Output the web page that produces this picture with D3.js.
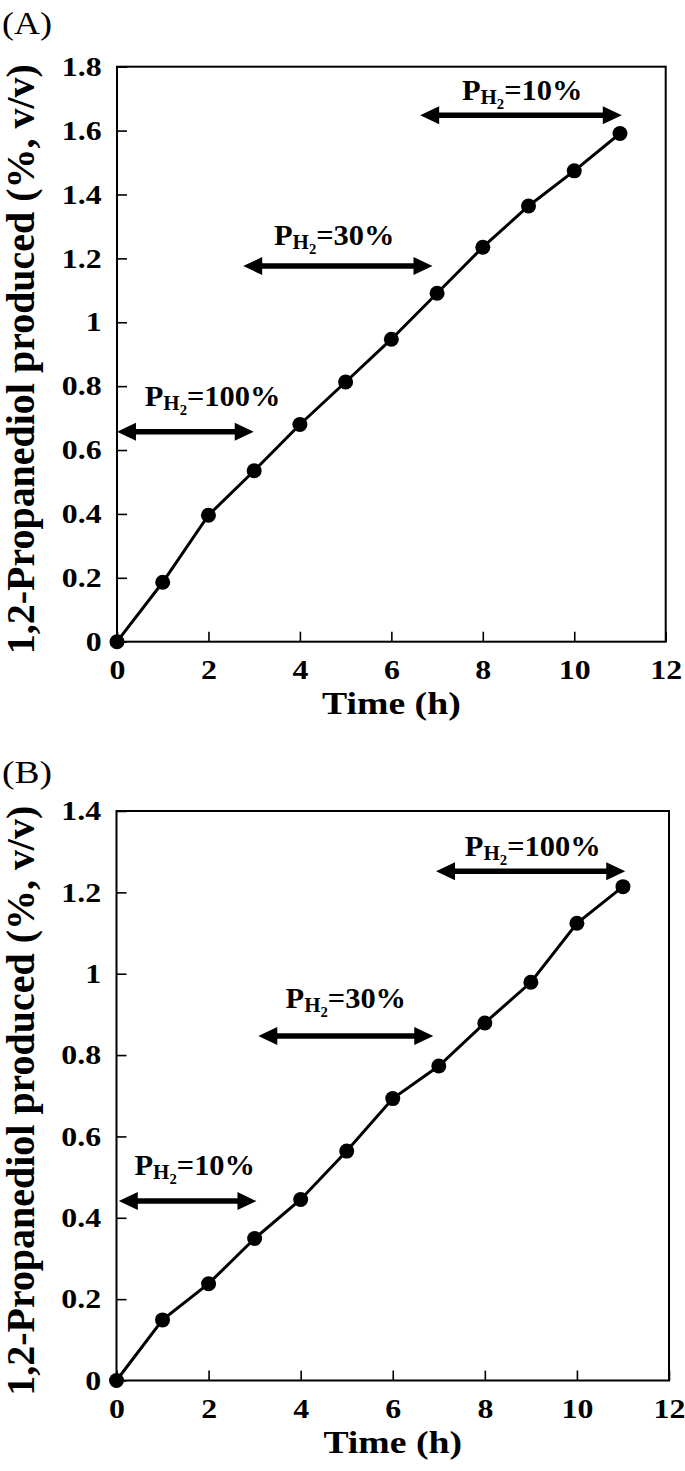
<!DOCTYPE html>
<html>
<head>
<meta charset="utf-8">
<script src="https://cdn.jsdelivr.net/npm/d3@7"></script>
<style>
  body { margin: 0; background: #fff; }
  text { font-family: "Liberation Serif", "Times New Roman", serif; }
</style>
</head>
<body>
<div id="chartDiv"></div>
<script>
// data
var timeHours = [0, 1, 2, 3, 4, 5, 6, 7, 8, 9, 10, 11];
var propanediolA = [0, 0.186, 0.396, 0.535, 0.68, 0.813, 0.947, 1.091, 1.235, 1.364, 1.474, 1.591];
var propanediolB = [0, 0.149, 0.238, 0.349, 0.445, 0.564, 0.693, 0.773, 0.879, 0.979, 1.124, 1.214];

var xTicks = [0, 2, 4, 6, 8, 10, 12];
var yTicksA = [0, 0.2, 0.4, 0.6, 0.8, 1, 1.2, 1.4, 1.6, 1.8];
var yTicksB = [0, 0.2, 0.4, 0.6, 0.8, 1, 1.2, 1.4];

// H2 pressure periods: arrow start/end (h), arrow level, label centre and baseline
var pressureA = [
  { pct: "100", x0: 0, x1: 2.99, y: 0.657, lx: 2.09, ly: 0.737 },
  { pct: "30", x0: 2.76, x1: 6.9, y: 1.176, lx: 4.75, ly: 1.241 },
  { pct: "10", x0: 6.63, x1: 11.04, y: 1.648, lx: 8.86, ly: 1.695 }
];
var pressureB = [
  { pct: "10", x0: 0.05, x1: 3.04, y: 0.441, lx: 1.70, ly: 0.505 },
  { pct: "30", x0: 3.08, x1: 6.88, y: 0.847, lx: 4.98, ly: 0.915 },
  { pct: "100", x0: 6.94, x1: 11.05, y: 1.252, lx: 9.04, ly: 1.289 }
];

var width = 685;
var height = 1471;
var stretch = 1.18;   // the original figure is a bit wider than tall
var yTitle = "1,2-Propanediol produced (%, v/v)";
var xTitle = "Time (h)";

var svg = d3.select("#chartDiv").append("svg")
  .attr("width", width)
  .attr("height", height);

drawPanel({ tag: "(A)", tagY: 34, left: 117, right: 665.7, top: 66.7, bottom: 641.7,
  yMax: 1.8, yTicks: yTicksA, values: propanediolA, arrows: pressureA });
drawPanel({ tag: "(B)", tagY: 783, left: 116.5, right: 669, top: 811, bottom: 1380.5,
  yMax: 1.4, yTicks: yTicksB, values: propanediolB, arrows: pressureB });

function drawPanel(p) {
  var x = d3.scaleLinear().domain([0, 12]).range([p.left, p.right]);
  var y = d3.scaleLinear().domain([0, p.yMax]).range([p.bottom, p.top]);
  var g = svg.append("g");

  // panel letter
  g.append("text")
    .attr("x", 2)
    .attr("y", p.tagY)
    .attr("font-size", 32)
    .attr("textLength", 50)
    .attr("lengthAdjust", "spacingAndGlyphs")
    .text(p.tag);

  // axes with inward ticks
  var xAxis = d3.axisBottom(x).tickValues(xTicks).tickSize(-10).tickPadding(18)
    .tickFormat(function(d) { return String(d); });
  var yAxis = d3.axisLeft(y).tickValues(p.yTicks).tickSize(-10).tickPadding(13)
    .tickFormat(function(d) { return String(d); });

  var gx = g.append("g")
    .attr("transform", "translate(0," + p.bottom + ")")
    .call(xAxis);
  var gy = g.append("g")
    .attr("transform", "translate(" + p.left + ",0)")
    .call(yAxis);

  [gx, gy].forEach(function(ax) {
    ax.select(".domain").remove();
    ax.selectAll(".tick line").attr("stroke", "#000").attr("stroke-width", 1.6);
    ax.selectAll(".tick text")
      .attr("font-size", 27)
      .attr("font-weight", "bold")
      .attr("fill", "#000")
      .attr("transform", "scale(" + stretch + ",1)");
  });

  // frame
  g.append("rect")
    .attr("x", p.left)
    .attr("y", p.top)
    .attr("width", p.right - p.left)
    .attr("height", p.bottom - p.top)
    .attr("fill", "none")
    .attr("stroke", "#000")
    .attr("stroke-width", 2);

  // axis titles
  g.append("text")
    .attr("transform", "translate(" + ((p.left + p.right) / 2) + "," + (p.bottom + 72) + ") scale(" + stretch + ",1)")
    .attr("text-anchor", "middle")
    .attr("font-size", 32)
    .attr("font-weight", "bold")
    .text(xTitle);

  g.append("text")
    .attr("transform", "translate(34," + ((p.top + p.bottom) / 2 + 5) + ") rotate(-90)")
    .attr("text-anchor", "middle")
    .attr("font-size", 39)
    .attr("font-weight", "bold")
    .attr("textLength", 590)
    .attr("lengthAdjust", "spacingAndGlyphs")
    .text(yTitle);

  // pressure arrows
  var head = 19, half = 9;
  p.arrows.forEach(function(a) {
    var xa = x(a.x0), xb = x(a.x1), ya = y(a.y);
    g.append("line")
      .attr("x1", xa + head - 2).attr("x2", xb - head + 2)
      .attr("y1", ya).attr("y2", ya)
      .attr("stroke", "#000")
      .attr("stroke-width", 5.5);
    g.append("path")
      .attr("d", "M" + xa + "," + ya + "L" + (xa + head) + "," + (ya - half) + "L" + (xa + head) + "," + (ya + half) + "Z" +
                 "M" + xb + "," + ya + "L" + (xb - head) + "," + (ya - half) + "L" + (xb - head) + "," + (ya + half) + "Z")
      .attr("fill", "#000");

    var t = g.append("text")
      .attr("transform", "translate(" + x(a.lx) + "," + y(a.ly) + ") scale(1.05,1)")
      .attr("text-anchor", "middle")
      .attr("font-weight", "bold")
      .attr("font-size", 29);
    t.append("tspan").text("P");
    t.append("tspan").attr("font-size", 20).attr("dy", 4).text("H");
    t.append("tspan").attr("font-size", 14).attr("dy", 5).text("2");
    t.append("tspan").attr("dy", -9).text("=" + a.pct + "%");
  });

  // data line and markers
  var pts = timeHours.map(function(h, i) { return { t: h, v: p.values[i] }; });
  var line = d3.line()
    .x(function(d) { return x(d.t); })
    .y(function(d) { return y(d.v); });

  g.append("path")
    .datum(pts)
    .attr("d", line)
    .attr("fill", "none")
    .attr("stroke", "#000")
    .attr("stroke-width", 3);

  g.selectAll(".dot")
    .data(pts)
    .enter().append("circle")
      .attr("class", "dot")
      .attr("cx", function(d) { return x(d.t); })
      .attr("cy", function(d) { return y(d.v); })
      .attr("r", 7.5)
      .attr("fill", "#000");
}
</script>
</body>
</html>
